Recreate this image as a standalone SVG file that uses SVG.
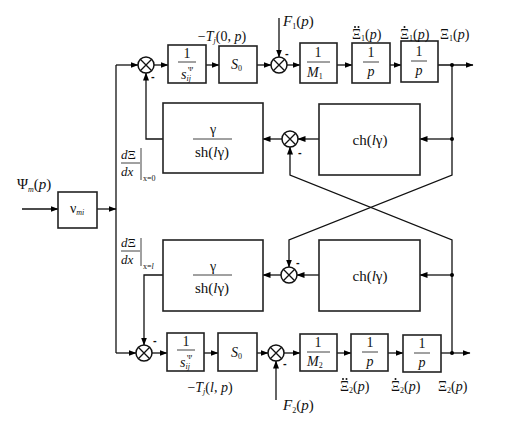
<svg xmlns="http://www.w3.org/2000/svg" width="510" height="423" viewBox="0 0 510 423">
<defs>
<marker id="ah" markerWidth="8" markerHeight="6" refX="7.5" refY="3" orient="auto" markerUnits="userSpaceOnUse">
<path d="M0,0 L8,3 L0,6 Z" fill="#000"/>
</marker>
<style>
.box{fill:#fff;stroke:#222;stroke-width:1.6}
.ln{fill:none;stroke:#111;stroke-width:1.3}
.ar{fill:none;stroke:#111;stroke-width:1.3;marker-end:url(#ah)}
.sum{fill:#fff;stroke:#111;stroke-width:1.5}
.t{font-family:"Liberation Serif",serif;font-size:14px;fill:#111}
.i{font-style:italic}
.s{font-size:8px}
.big{font-size:15px}
.m{font-family:"Liberation Sans",sans-serif;font-size:11px;font-weight:bold;fill:#111}
.dt{fill:#111}
</style>
</defs>
<rect width="510" height="423" fill="#fff"/>

<g id="connectors">
<line class="ln" x1="116" y1="65" x2="116" y2="353"/>
<line class="ar" x1="116" y1="65" x2="138" y2="65"/>
<line class="ar" x1="116" y1="353" x2="136" y2="353"/>
<line class="ar" x1="22" y1="209" x2="58" y2="209"/>
<line class="ar" x1="97" y1="209" x2="116" y2="209"/>
<line class="ar" x1="154" y1="65" x2="168" y2="65"/>
<line class="ar" x1="206" y1="65" x2="219" y2="65"/>
<line class="ar" x1="257" y1="65" x2="271" y2="65"/>
<line class="ar" x1="279" y1="18" x2="279" y2="57"/>
<line class="ar" x1="287" y1="65" x2="300" y2="65"/>
<line class="ar" x1="337" y1="65" x2="352" y2="65"/>
<line class="ar" x1="390" y1="65" x2="401" y2="65"/>
<line class="ar" x1="438" y1="65" x2="473" y2="65"/>
<polyline class="ar" points="452,65 452,175 289,240 289,267"/>
<line class="ar" x1="452" y1="139" x2="420" y2="139"/>
<line class="ar" x1="319" y1="139" x2="298" y2="139"/>
<line class="ar" x1="282" y1="139" x2="263" y2="139"/>
<polyline class="ar" points="163,139 146,139 146,73"/>
<polyline class="ar" points="452,353 452,240 290,175 290,147"/>
<line class="ar" x1="452" y1="275" x2="420" y2="275"/>
<line class="ar" x1="319" y1="275" x2="297" y2="275"/>
<line class="ar" x1="281" y1="275" x2="263" y2="275"/>
<polyline class="ar" points="163,275 144,275 144,345"/>
<line class="ar" x1="152" y1="353" x2="167" y2="353"/>
<line class="ar" x1="204" y1="353" x2="218" y2="353"/>
<line class="ar" x1="257" y1="353" x2="268" y2="353"/>
<line class="ar" x1="276" y1="400" x2="276" y2="361"/>
<line class="ar" x1="284" y1="353" x2="300" y2="353"/>
<line class="ar" x1="337" y1="353" x2="351" y2="353"/>
<line class="ar" x1="388" y1="353" x2="403" y2="353"/>
<line class="ar" x1="441" y1="353" x2="470" y2="353"/>
<circle cx="452" cy="65" r="2" fill="#000"/>
<circle cx="452" cy="139" r="2" fill="#000"/>
<circle cx="452" cy="275" r="2" fill="#000"/>
<circle cx="452" cy="353" r="2" fill="#000"/>
</g>

<g id="sum-t1"><circle class="sum" cx="146" cy="65" r="8"/><path class="ln" d="M140.3,59.3 L151.7,70.7 M151.7,59.3 L140.3,70.7"/><text class="m" x="151" y="80">-</text></g>
<g id="sum-t2"><circle class="sum" cx="279" cy="65" r="8"/><path class="ln" d="M273.3,59.3 L284.7,70.7 M284.7,59.3 L273.3,70.7"/><text class="m" x="285" y="57">-</text></g>
<g id="sum-m1"><circle class="sum" cx="290" cy="139" r="8"/><path class="ln" d="M284.3,133.3 L295.7,144.7 M295.7,133.3 L284.3,144.7"/><text class="m" x="298" y="156">-</text></g>
<g id="sum-m2"><circle class="sum" cx="289" cy="275" r="8"/><path class="ln" d="M283.3,269.3 L294.7,280.7 M294.7,269.3 L283.3,280.7"/><text class="m" x="296" y="266">-</text></g>
<g id="sum-b1"><circle class="sum" cx="144" cy="353" r="8"/><path class="ln" d="M138.3,347.3 L149.7,358.7 M149.7,347.3 L138.3,358.7"/><text class="m" x="153" y="344">-</text></g>
<g id="sum-b2"><circle class="sum" cx="276" cy="353" r="8"/><path class="ln" d="M270.3,347.3 L281.7,358.7 M281.7,347.3 L270.3,358.7"/><text class="m" x="283" y="367">-</text></g>

<g id="psi-box"><rect class="box" x="58" y="192" width="39" height="36"/><text class="t" x="70" y="213">ν<tspan class="s i" dy="2">mi</tspan></text></g>
<g id="psi-label"><text class="t big" x="17" y="189">Ψ<tspan class="s i" dy="3">m</tspan><tspan dy="-3">(</tspan><tspan class="i">p</tspan>)</text></g>

<g id="s-top"><rect class="box" x="168" y="45" width="38" height="38"/><text class="t" x="187" y="58" text-anchor="middle">1</text><line class="ln" x1="178" y1="62" x2="196" y2="62" style="stroke-width:0.8"/><text class="t" x="188" y="71" style="font-size:7px">Ψ</text><text class="t i" x="181" y="79">s<tspan class="s" dy="2">ij</tspan></text></g>
<g id="s0-top"><rect class="box" x="219" y="46" width="38" height="37"/><text class="t i" x="231" y="69">S<tspan class="s" style="font-style:normal" dy="2">0</tspan></text></g>
<g id="m1"><rect class="box" x="300" y="43" width="37" height="40"/><text class="t" x="318" y="57" text-anchor="middle">1</text><line class="ln" x1="307" y1="62" x2="330" y2="62" style="stroke-width:0.8"/><text class="t i" x="307" y="77">M<tspan class="s" style="font-style:normal" dy="2">1</tspan></text></g>
<g id="p1-top"><rect class="box" x="352" y="43" width="38" height="40"/><text class="t" x="371" y="57" text-anchor="middle">1</text><line class="ln" x1="363" y1="62" x2="379" y2="62" style="stroke-width:0.8"/><text class="t i" x="371" y="76" text-anchor="middle">p</text></g>
<g id="p2-top"><rect class="box" x="401" y="41" width="37" height="41"/><text class="t" x="419" y="56" text-anchor="middle">1</text><line class="ln" x1="411" y1="61" x2="427" y2="61" style="stroke-width:0.8"/><text class="t i" x="419" y="75" text-anchor="middle">p</text></g>

<g id="sh-top"><rect class="box" x="163" y="103" width="100" height="70"/><text class="t" x="213" y="134" text-anchor="middle">γ</text><line class="ln" x1="193" y1="139" x2="232" y2="139" style="stroke-width:0.8"/><text class="t big" x="212" y="157" text-anchor="middle">sh(<tspan class="i">l</tspan>γ)</text></g>
<g id="ch-top"><rect class="box" x="319" y="104" width="101" height="71"/><text class="t big" x="370" y="145" text-anchor="middle">ch(<tspan class="i">l</tspan>γ)</text></g>
<g id="sh-bot"><rect class="box" x="163" y="240" width="100" height="71"/><text class="t" x="213" y="271" text-anchor="middle">γ</text><line class="ln" x1="193" y1="275" x2="232" y2="275" style="stroke-width:0.8"/><text class="t big" x="212" y="293" text-anchor="middle">sh(<tspan class="i">l</tspan>γ)</text></g>
<g id="ch-bot"><rect class="box" x="319" y="240" width="101" height="71"/><text class="t big" x="370" y="281" text-anchor="middle">ch(<tspan class="i">l</tspan>γ)</text></g>

<g id="s-bot"><rect class="box" x="167" y="333" width="37" height="38"/><text class="t" x="186" y="346" text-anchor="middle">1</text><line class="ln" x1="177" y1="350" x2="195" y2="350" style="stroke-width:0.8"/><text class="t" x="187" y="359" style="font-size:7px">Ψ</text><text class="t i" x="180" y="367">s<tspan class="s" dy="2">ij</tspan></text></g>
<g id="s0-bot"><rect class="box" x="218" y="333" width="39" height="38"/><text class="t i" x="231" y="357">S<tspan class="s" style="font-style:normal" dy="2">0</tspan></text></g>
<g id="m2"><rect class="box" x="300" y="334" width="37" height="37"/><text class="t" x="318" y="347" text-anchor="middle">1</text><line class="ln" x1="307" y1="352" x2="330" y2="352" style="stroke-width:0.8"/><text class="t i" x="307" y="366">M<tspan class="s" style="font-style:normal" dy="2">2</tspan></text></g>
<g id="p1-bot"><rect class="box" x="351" y="334" width="37" height="37"/><text class="t" x="370" y="347" text-anchor="middle">1</text><line class="ln" x1="362" y1="352" x2="378" y2="352" style="stroke-width:0.8"/><text class="t i" x="370" y="366" text-anchor="middle">p</text></g>
<g id="p2-bot"><rect class="box" x="403" y="335" width="38" height="37"/><text class="t" x="422" y="348" text-anchor="middle">1</text><line class="ln" x1="414" y1="353" x2="430" y2="353" style="stroke-width:0.8"/><text class="t i" x="422" y="367" text-anchor="middle">p</text></g>

<g id="labels">
<text class="t" x="222" y="41" text-anchor="middle">−<tspan class="i">T</tspan><tspan class="s i" dy="2">j</tspan><tspan dy="-2">(0, </tspan><tspan class="i">p</tspan>)</text>
<text class="t" x="210" y="392" text-anchor="middle">−<tspan class="i">T</tspan><tspan class="s i" dy="2">j</tspan><tspan dy="-2">(</tspan><tspan class="i">l</tspan>, <tspan class="i">p</tspan>)</text>
<text class="t big" x="283" y="26"><tspan class="i">F</tspan><tspan class="s" dy="3">1</tspan><tspan dy="-3">(</tspan><tspan class="i">p</tspan>)</text>
<text class="t big" x="283" y="410"><tspan class="i">F</tspan><tspan class="s" dy="3">2</tspan><tspan dy="-3">(</tspan><tspan class="i">p</tspan>)</text>
<text class="t" x="352" y="39">Ξ<tspan class="s" dy="2">1</tspan><tspan dy="-2">(</tspan><tspan class="i">p</tspan>)</text>
<circle class="dt" cx="355" cy="27" r="1"/><circle class="dt" cx="358.5" cy="27" r="1"/>
<text class="t" x="400" y="39">Ξ<tspan class="s" dy="2">1</tspan><tspan dy="-2">(</tspan><tspan class="i">p</tspan>)</text>
<circle class="dt" cx="404.5" cy="27" r="1"/>
<text class="t" x="440" y="39">Ξ<tspan class="s" dy="2">1</tspan><tspan dy="-2">(</tspan><tspan class="i">p</tspan>)</text>
<text class="t" x="340" y="391">Ξ<tspan class="s" dy="2">2</tspan><tspan dy="-2">(</tspan><tspan class="i">p</tspan>)</text>
<circle class="dt" cx="343" cy="379" r="1"/><circle class="dt" cx="346.5" cy="379" r="1"/>
<text class="t" x="391" y="391">Ξ<tspan class="s" dy="2">2</tspan><tspan dy="-2">(</tspan><tspan class="i">p</tspan>)</text>
<circle class="dt" cx="395.5" cy="379" r="1"/>
<text class="t" x="438" y="391">Ξ<tspan class="s" dy="2">2</tspan><tspan dy="-2">(</tspan><tspan class="i">p</tspan>)</text>
<text class="t" x="121" y="159" style="font-size:13px"><tspan class="i">d</tspan>Ξ</text>
<line class="ln" x1="121" y1="163" x2="140" y2="163" style="stroke-width:0.8"/>
<text class="t i" x="121" y="176" style="font-size:13px">dx</text>
<line class="ln" x1="141" y1="148" x2="141" y2="180" style="stroke-width:0.8"/>
<text class="t s" x="143" y="181">x=0</text>
<text class="t" x="121" y="247" style="font-size:13px"><tspan class="i">d</tspan>Ξ</text>
<line class="ln" x1="121" y1="251" x2="140" y2="251" style="stroke-width:0.8"/>
<text class="t i" x="121" y="264" style="font-size:13px">dx</text>
<line class="ln" x1="141" y1="238" x2="141" y2="266" style="stroke-width:0.8"/>
<text class="t s" x="143" y="269">x=<tspan class="i">l</tspan></text>
</g>
</svg>
